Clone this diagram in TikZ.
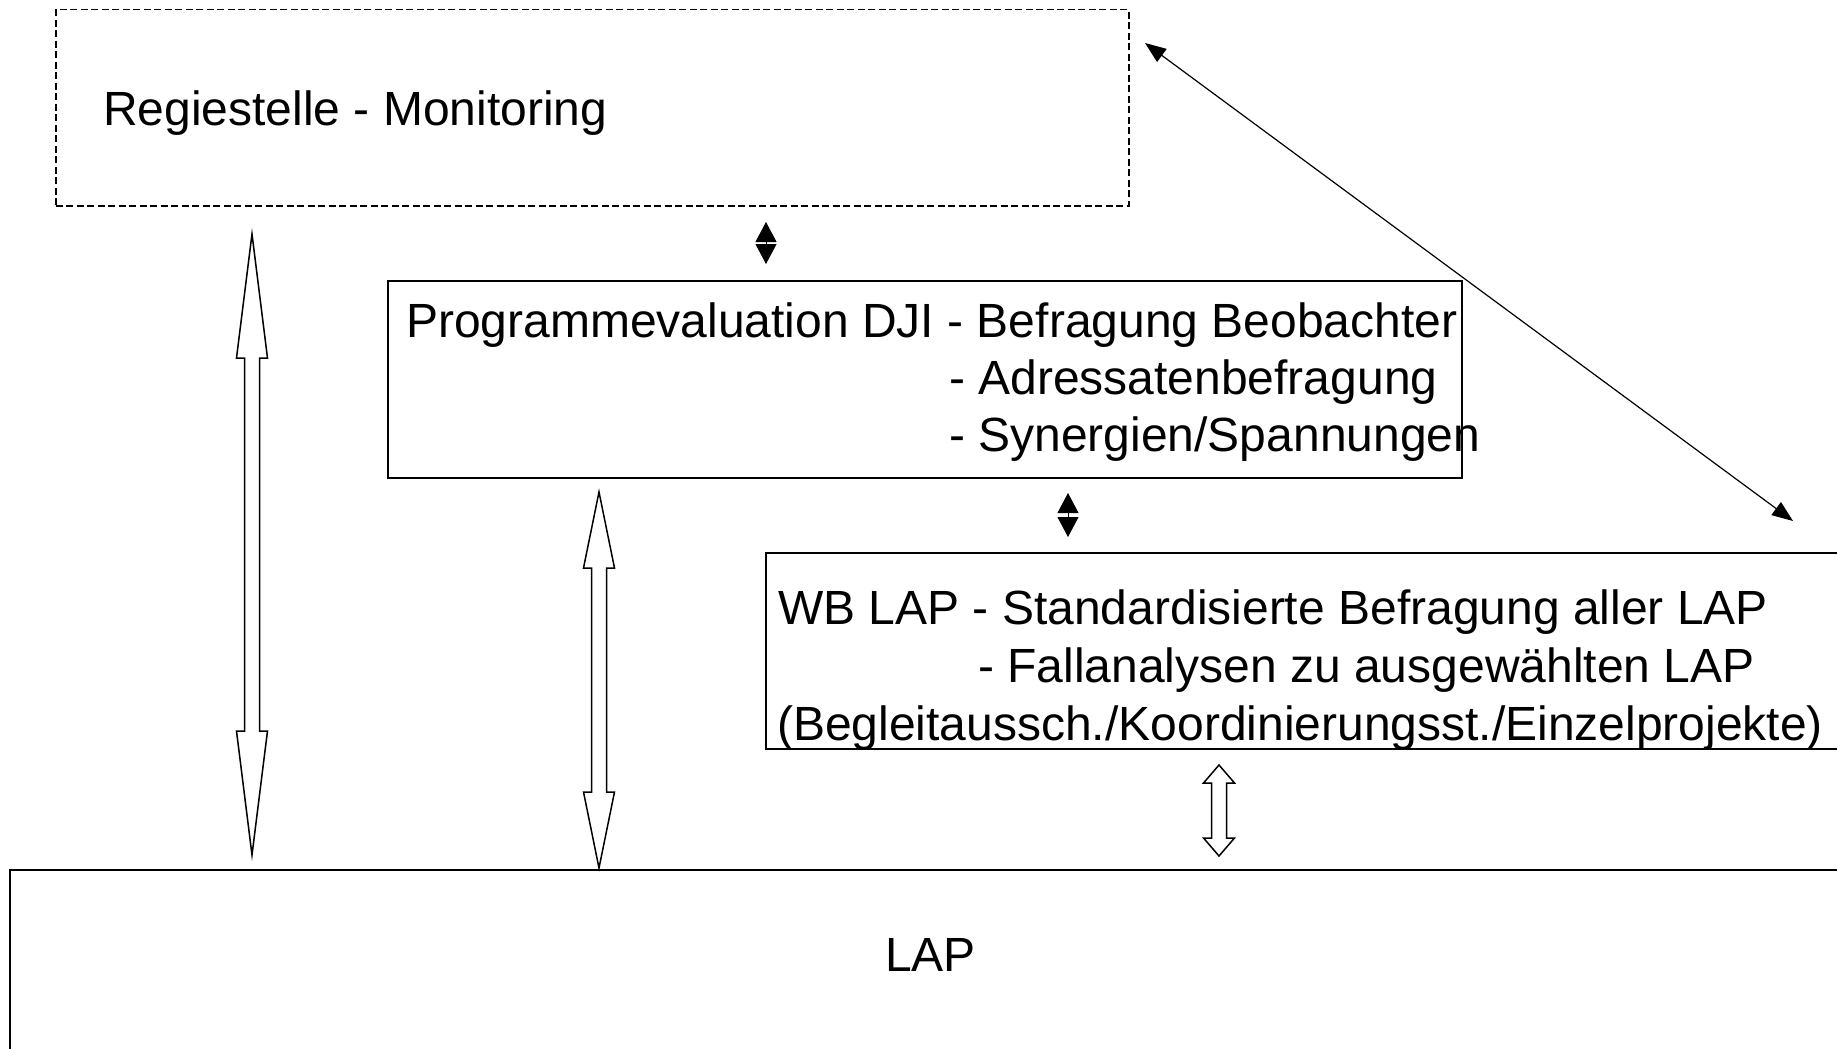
\documentclass[tikz,border=0pt]{standalone}
\usepackage{fontspec}
\setmainfont{Liberation Sans}
\usetikzlibrary{arrows.meta,calc}
\newcommand\dblblockarrow[3]{%
  \draw[blockarrow] (#1) -- ($(#1)+(15.5,#3)$) -- ($(#1)+(7.5,#3)$) -- ($(#2)+(7.5,-#3)$) -- ($(#2)+(15.5,-#3)$) -- (#2) -- ($(#2)+(-15.5,-#3)$) -- ($(#2)+(-7.5,-#3)$) -- ($(#1)+(-7.5,#3)$) -- ($(#1)+(-15.5,#3)$) -- cycle;}
\begin{document}
\begin{tikzpicture}[x=1pt,y=-1pt,
  box/.style={draw, line width=1.5pt, anchor=north west, inner sep=0pt},
  dashbox/.style={box, dash pattern=on 7pt off 3.5pt},
  txt/.style={inner sep=0pt, anchor=base west, font=\fontsize{48pt}{57.5pt}\selectfont},
  blockarrow/.style={draw, fill=white, line width=1.5pt, line join=miter},
  smallarrow/.style={line width=1pt, {Triangle[length=20pt,width=21pt]}-{Triangle[length=20pt,width=21pt]}},
  diagarrow/.style={line width=1.2pt, {Triangle[length=21pt,width=16pt]}-{Triangle[length=21pt,width=16pt]}}
]
\useasboundingbox (0,0) rectangle (1837,1049);
\clip (0,0) rectangle (1837,1049);
\fill[white] (0,0) rectangle (1837,1049);

% boxes
\node[dashbox, minimum width=1073pt, minimum height=196pt] (reg) at (55,9) {};
\node[box, minimum width=1074pt, minimum height=197pt] (prog) at (387,280) {};
\node[box, minimum width=1100pt, minimum height=196pt] (wb) at (765,552) {};
\node[box, minimum width=1900pt, minimum height=300pt] (lap) at (9,869) {};

% texts
\node[txt] (regT) at (103,125) {Regiestelle - Monitoring};
\node[txt] (progT1) at (406,337) {Programmevaluation DJI - Befragung Beobachter};
\node[txt] (progT2) at (949,394) {- Adressatenbefragung};
\node[txt] (progT3) at (949,451) {- Synergien/Spannungen};
\node[txt] (wbT1) at (778,624) {WB LAP - Standardisierte Befragung aller LAP};
\node[txt] (wbT2) at (978,682) {- Fallanalysen zu ausgewählten LAP};
\node[txt] (wbT3) at (777,740) {(Begleitaussch./Koordinierungsst./Einzelprojekte)};
\node[txt] (lapT) at (885,971) {LAP};

% connector end points
\coordinate (a1t) at (252,234);
\coordinate (a1b) at (252,855);
\coordinate (a2t) at (599,492);
\coordinate (a2b) at (599,868);
\coordinate (a3t) at (1219,765);
\coordinate (a3b) at (1219,856);
\coordinate (s1t) at (766,222);
\coordinate (s1b) at (766,264);
\coordinate (s2t) at (1068,493);
\coordinate (s2b) at (1068,537);
\coordinate (d1) at (1145,43);
\coordinate (d2) at (1793,521);

% block arrows
\dblblockarrow{a1t}{a1b}{124}
\dblblockarrow{a2t}{a2b}{76}
\dblblockarrow{a3t}{a3b}{18}

% small black double arrows
\draw[smallarrow] (s1t) -- (s1b);
\draw[smallarrow] (s2t) -- (s2b);

% diagonal
\draw[diagarrow] (d1) -- (d2);
\end{tikzpicture}
\end{document}
